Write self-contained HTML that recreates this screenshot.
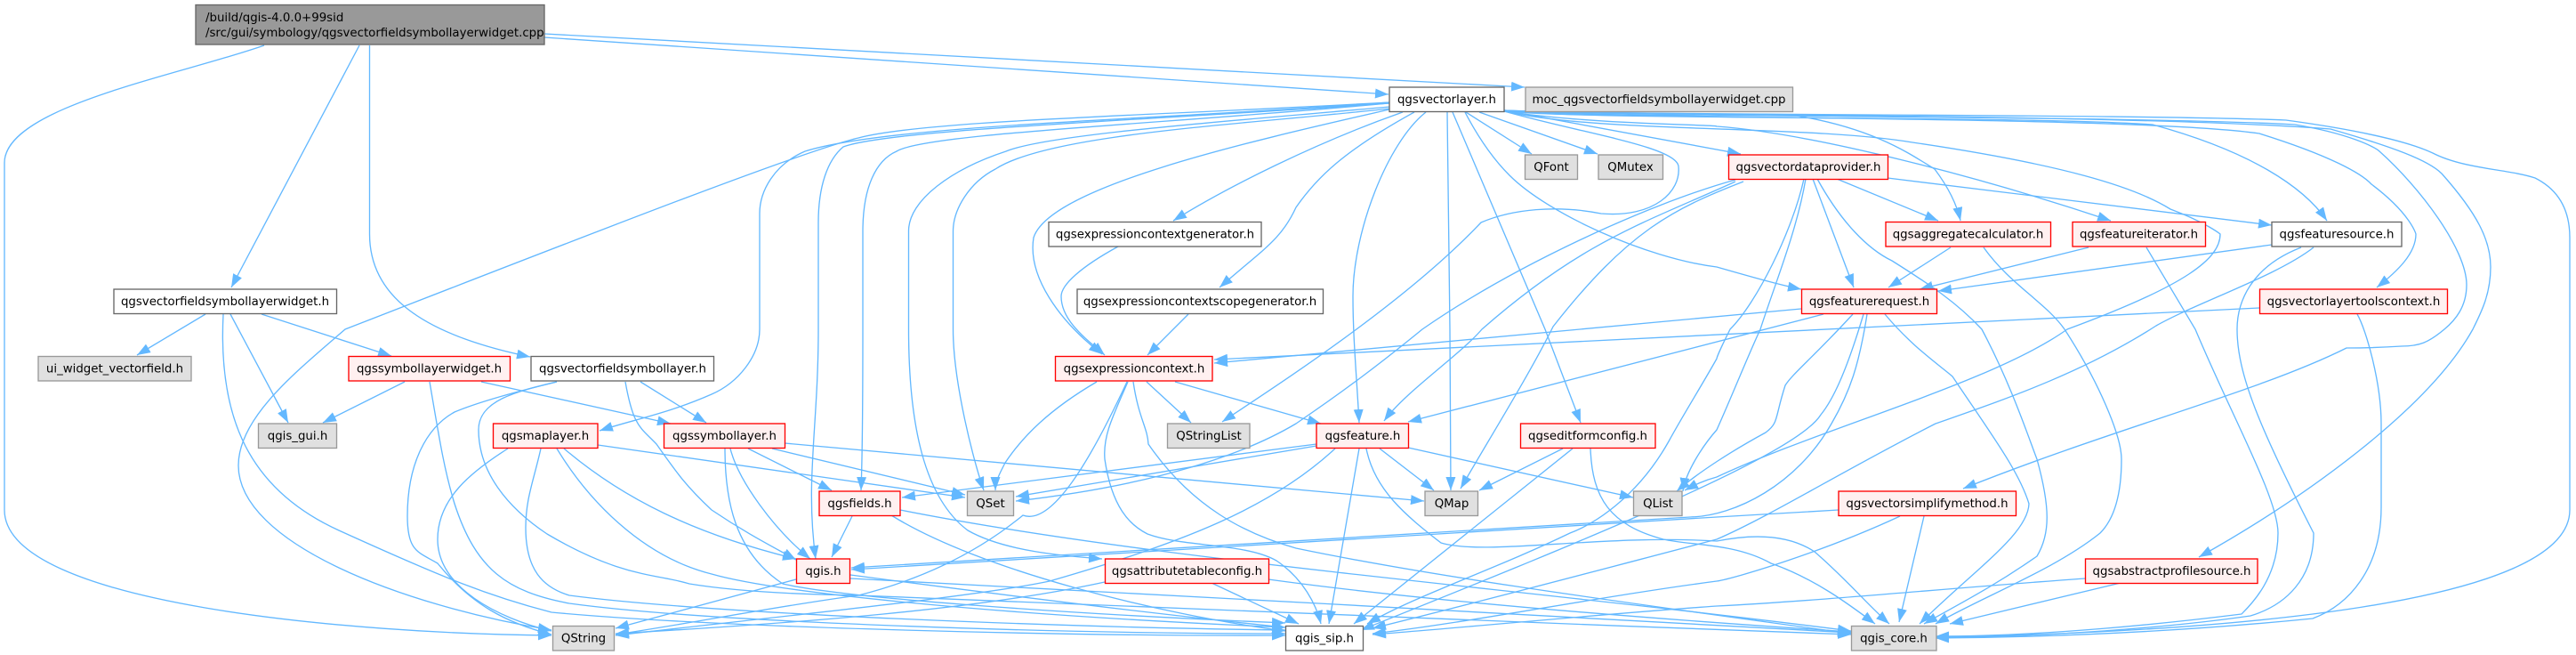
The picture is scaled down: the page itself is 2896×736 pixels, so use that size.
<!DOCTYPE html>
<html><head><meta charset="utf-8"><style>
html,body{margin:0;padding:0;background:#fff;width:2896px;height:736px;overflow:hidden}
svg{display:block}
.e path{fill:none;stroke:#63b8ff;stroke-width:1.33;marker-end:url(#a)}
text{font-family:"DejaVu Sans",sans-serif;font-size:13.33px;fill:#000}
.n text{text-anchor:middle}
.w rect{fill:#fff;stroke:#666;stroke-width:1.33}
.r rect{fill:#fff0f0;stroke:#f00;stroke-width:1.33}
.g rect{fill:#e0e0e0;stroke:#999;stroke-width:1.33}
</style></head><body>
<svg width="2896" height="736" viewBox="0 0 2896 736" xmlns="http://www.w3.org/2000/svg">
<defs><marker id="a" markerUnits="userSpaceOnUse" markerWidth="16" markerHeight="12" refX="15" refY="5.5" orient="auto"><path d="M0,0L15,5.5L0,11z" fill="#63b8ff"/></marker></defs>
<g class="e">
<!-- root -->
<path d="M297,51C200,85 5,120 5,183L5,573C5,680 400,712 620,714"/>
<path d="M404,51L260,323"/>
<path d="M415.500,51L415.500,263C415.500,330 470,375 596,401"/>
<path d="M612,42L1561,106"/>
<path d="M612,38L1714,98"/>
<!-- widget.h -->
<path d="M231,353L154,399"/>
<path d="M251,353C245,470 280,550 381,596C500,650 550,670 620,688C800,705 1200,715 1445,714"/>
<path d="M259,353L324,475"/>
<path d="M294,353L440,400"/>
<!-- symbollayerwidget -->
<path d="M455,429L363,475"/>
<path d="M483,429C495,500 500,530 511,566C535,640 570,665 640,678C800,700 1200,712 1445,712"/>
<path d="M541,429L754,476"/>
<!-- vectorfieldsymbollayer -->
<path d="M626,429C560,445 530,455 511,463C480,480 458,520 458,580C458,620 470,620 492,633C530,680 570,700 620,713"/>
<path d="M626,429C580,440 538,450 538,483C538,530 570,570 615,600C700,650 740,645 775,656C830,665 900,668 965,669C1300,680 1700,700 2081,713"/>
<path d="M703,429C712,480 720,480 738,499C760,530 770,545 800,573C840,600 870,615 895,629"/>
<path d="M720,429L794,475"/>
<!-- maplayer -->
<path d="M571,504C530,530 492,560 492,606C492,660 560,695 620,709"/>
<path d="M608,504C600,540 591,560 591,593C591,640 610,660 640,669C800,690 1200,705 1445,708"/>
<path d="M634,504C700,560 780,600 895,628"/>
<path d="M626,504C660,560 720,625 800,645C870,665 1100,690 1445,705"/>
<path d="M672,500L1085,559"/>
<!-- symbollayer -->
<path d="M821,504C830,540 870,595 911,628"/>
<path d="M815,504C815,560 825,620 880,656C950,672 1200,690 1445,700"/>
<path d="M841,504L935,551"/>
<path d="M868,504L1085,556"/>
<path d="M882,498L1601,563"/>
<!-- qgsfields -->
<path d="M958,580L935,626"/>
<path d="M1002,579C1100,640 1300,690 1445,709"/>
<path d="M1012,573C1300,630 1700,660 2081,709"/>
<!-- qgis.h -->
<path d="M895,651L692,706"/>
<path d="M956,646C1100,665 1300,690 1445,705"/>
<path d="M956,650C1300,670 1750,690 2081,711"/>
<!-- qgsfeaturerequest -->
<path d="M2025,347L1365,408"/>
<path d="M2050,353L1583,474"/>
<path d="M2083,353C2040,400 2015,420 2007,433C1995,470 2000,475 1985,486C1950,505 1910,530 1885,552"/>
<path d="M2095,353C2075,420 2060,450 2047,466C2020,510 1800,600 1530,708"/>
<path d="M2099,353C2090,410 2080,440 2059,476C2020,545 1950,580 1900,581L957,638"/>
<path d="M2119,353C2150,390 2180,410 2195,423C2240,490 2270,530 2281,566C2280,600 2220,640 2158,701"/>
<!-- provider -->
<path d="M1951,202C1850,230 1700,300 1599,370C1550,410 1510,440 1457,476C1400,510 1300,545 1142,563"/>
<path d="M1951,204C1850,250 1780,270 1666,370C1640,400 1580,440 1556,473"/>
<path d="M1960,204C1880,235 1830,260 1746,367C1720,420 1670,500 1642,549"/>
<path d="M2028,201C2015,260 1975,340 1945,370C1930,400 1930,403 1930,403C1915,430 1890,470 1876,496C1840,560 1790,590 1765,599C1680,640 1590,670 1537,701"/>
<path d="M2030,201C2020,260 1995,320 1979,370C1965,400 1945,450 1930,483C1915,500 1895,530 1892,552"/>
<path d="M2038,201L2084,323"/>
<path d="M2043,201C2070,250 2100,280 2127,293C2170,320 2200,340 2228,370C2260,430 2280,490 2290,516C2305,570 2305,600 2290,625C2240,660 2200,680 2163,701"/>
<path d="M2065,201L2179,248"/>
<path d="M2122,200L2554,253"/>
<!-- aggregate -->
<path d="M2193,278L2123,323"/>
<path d="M2230,278C2260,320 2300,340 2321,370C2360,430 2385,490 2385,516C2385,560 2375,585 2361,599C2310,640 2230,670 2176,701"/>
<!-- iterator -->
<path d="M2348,278L2158,325"/>
<path d="M2413,278L2468,370C2510,470 2561,560 2561,599C2561,650 2530,680 2520,690C2440,700 2300,715 2176,715"/>
<!-- source -->
<path d="M2554,275L2179,327"/>
<path d="M2601,278C2560,310 2470,340 2424,366C2340,420 2250,450 2176,476C2070,530 1990,580 1930,606C1800,640 1650,680 1543,706"/>
<path d="M2587,278C2530,300 2515,340 2515,370C2515,420 2540,480 2601,599C2601,650 2570,680 2530,692C2440,705 2300,716 2176,716"/>
<!-- toolscontext -->
<path d="M2540,346L1365,404"/>
<path d="M2650,353C2660,370 2677,430 2677,476L2677,570C2677,640 2640,680 2600,695C2450,710 2300,716 2176,717"/>
<!-- simplify -->
<path d="M2067,573L1930,581L957,640"/>
<path d="M2136,580C2050,620 1950,650 1930,653C1800,670 1650,700 1543,712"/>
<path d="M2163,580L2135,699"/>
<!-- profile -->
<path d="M2345,650C2200,660 2050,675 1930,681C1800,690 1650,705 1543,713"/>
<path d="M2384,655L2192,701"/>
<!-- editform -->
<path d="M1757,504L1663,551"/>
<path d="M1768,504L1522,701"/>
<path d="M1788,504C1790,560 1810,590 1870,606C1900,613 1950,610 1991,633C2040,650 2080,680 2108,701"/>
<!-- feature -->
<path d="M1480,499L1014,559"/>
<path d="M1480,501L1142,558"/>
<path d="M1501,504C1430,570 1330,610 1180,653C1100,670 900,690 692,714"/>
<path d="M1528,504L1494,701"/>
<path d="M1536,504C1545,550 1580,579 1620,610C1670,625 1800,600 1930,608C1970,600 2010,600 2040,620C2075,650 2100,680 2124,701"/>
<path d="M1551,504L1612,551"/>
<path d="M1583,503L1836,559"/>
<!-- expression context -->
<path d="M1233,429C1180,460 1150,490 1130,520C1125,530 1119,540 1119,551"/>
<path d="M1267,429C1220,530 1180,590 1150,579C1100,620 1040,650 965,669C880,680 780,700 692,713"/>
<path d="M1268,429C1250,470 1240,490 1242,516C1250,570 1270,590 1290,600C1330,615 1400,610 1435,630C1465,650 1480,680 1485,701"/>
<path d="M1274,429C1280,470 1290,480 1291,499C1340,570 1400,600 1457,616C1620,650 1850,680 2081,712"/>
<path d="M1289,429L1339,475"/>
<path d="M1321,429L1485,476"/>
<!-- generators -->
<path d="M1257,277C1215,300 1193,320 1193,333C1193,360 1220,380 1242,399"/>
<path d="M1336,353L1290,399"/>
<!-- attribute table -->
<path d="M1242,654C1100,685 900,700 692,712"/>
<path d="M1362,655L1460,701"/>
<path d="M1426,651C1600,675 1850,695 2081,710"/>
<!-- vectorlayer -->
<path d="M1562,115C1300,130 1040,135 965,155C900,170 620,280 388,370C330,420 268,470 268,523C268,610 450,680 620,708"/>
<path d="M1562,115C1300,135 1000,140 905,170C870,185 854,215 854,240L854,370C854,400 830,430 800,443C750,465 710,472 674,484"/>
<path d="M1562,116C1300,135 1000,145 948,165C930,180 920,210 920,250L920,370C920,480 905,540 917,628"/>
<path d="M1562,116C1300,140 1040,150 1008,170C985,180 970,210 970,260L970,370C970,420 970,500 968,551"/>
<path d="M1562,120C1400,135 1180,150 1131,170C1070,190 1021,225 1021.500,260L1021.500,370C1021.500,480 1040,560 1088,596C1130,620 1200,625 1239,628"/>
<path d="M1562,122C1400,140 1180,150 1119,190C1090,205 1071.500,235 1071.500,260L1071.500,370C1071.500,430 1095,520 1106,551"/>
<path d="M1562,123C1400,160 1180,210 1162,267C1155,310 1190,360 1239,398"/>
<path d="M1577,126C1480,160 1380,210 1319,248"/>
<path d="M1590,126C1510,170 1480,200 1457,233C1440,270 1420,280 1371,323"/>
<path d="M1603,126C1560,160 1521,260 1521,333C1521,380 1525,420 1528,475"/>
<path d="M1627,126L1630,370L1631,551"/>
<path d="M1633,126L1737,370L1777,475"/>
<path d="M1691,124L1957,173"/>
<path d="M1648,126L1722,173"/>
<path d="M1663,126L1796,173"/>
<path d="M1691,125C1780,150 1885,165 1887,187C1890,215 1860,245 1800,240C1750,230 1700,235 1665,250C1580,340 1440,430 1374,474"/>
<path d="M1647,126C1670,170 1690,190 1697,197C1740,240 1850,290 1930,300C1965,310 2000,320 2025,325"/>
<path d="M1691,124C1790,135 1990,125 2020,130C2110,145 2150,175 2175,190C2190,210 2200,230 2204,248"/>
<path d="M1691,125C1790,140 1930,140 1930,142C2040,150 2230,200 2373,248"/>
<path d="M1691,125C1790,135 2280,130 2420,140C2530,170 2590,210 2616,248"/>
<path d="M1691,124C1850,135 2400,130 2540,150C2620,175 2655,195 2666,207C2710,240 2716,263 2716,263C2716,285 2695,305 2672,323"/>
<path d="M1691,124C1850,132 2400,130 2580,140C2640,150 2670,165 2675,170C2720,210 2773,280 2773,320C2773,345 2760,360 2748,370C2730,385 2720,389 2700,389C2670,391 2650,391 2638,391C2540,440 2380,480 2207,549"/>
<path d="M1691,124C1850,130 2400,128 2620,145C2690,165 2730,180 2745,195C2785,240 2800,270 2800,300C2800,330 2790,350 2780,370C2730,460 2590,560 2472,626"/>
<path d="M1691,125C1800,150 2030,140 2150,160C2320,185 2400,210 2440,235C2480,250 2496,263 2496,263C2496,290 2460,320 2324,370C2240,430 2050,480 1930,536C1915,540 1905,545 1894,551"/>
<path d="M1691,124C1850,130 2400,128 2570,135C2680,150 2720,165 2735,172C2770,190 2820,190 2850,200C2880,215 2889,240 2889,267L2889,573C2889,680 2500,710 2176,716"/>
</g>
<g class="n">
<g class="g"><rect x="220" y="5.500" width="392" height="44.500" style="fill:#999;stroke:#666"/></g>
<text x="231" y="24" style="text-anchor:start">/build/qgis-4.0.0+99sid</text>
<text x="231" y="41" style="text-anchor:start">/src/gui/symbology/qgsvectorfieldsymbollayerwidget.cpp</text>
<g class="w"><rect x="128" y="325" width="250.500" height="27.500"/><text x="253" y="343">qgsvectorfieldsymbollayerwidget.h</text></g>
<g class="w"><rect x="1562" y="98" width="129" height="27.500"/><text x="1626.500" y="116">qgsvectorlayer.h</text></g>
<g class="g"><rect x="1715" y="98" width="300.500" height="27.500"/><text x="1865" y="116">moc_qgsvectorfieldsymbollayerwidget.cpp</text></g>
<g class="g"><rect x="43" y="400.500" width="172" height="27.500"/><text x="129" y="418.500">ui_widget_vectorfield.h</text></g>
<g class="r"><rect x="392" y="400.500" width="181.500" height="27.500"/><text x="482.500" y="418.500">qgssymbollayerwidget.h</text></g>
<g class="w"><rect x="597" y="400.500" width="205.500" height="27.500"/><text x="700" y="418.500">qgsvectorfieldsymbollayer.h</text></g>
<g class="g"><rect x="290.500" y="476" width="88" height="27.500"/><text x="334.500" y="494">qgis_gui.h</text></g>
<g class="r"><rect x="554.500" y="476" width="117.500" height="27.500"/><text x="613" y="494">qgsmaplayer.h</text></g>
<g class="r"><rect x="746.500" y="476" width="136" height="27.500"/><text x="814.500" y="494">qgssymbollayer.h</text></g>
<g class="r"><rect x="921" y="552" width="91" height="27.500"/><text x="966.500" y="570">qgsfields.h</text></g>
<g class="r"><rect x="895.500" y="628" width="60" height="27.500"/><text x="925.500" y="646">qgis.h</text></g>
<g class="g"><rect x="621.500" y="703.500" width="69" height="27.500"/><text x="656" y="721.500">QString</text></g>
<g class="g"><rect x="1714.500" y="174" width="59" height="27.500"/><text x="1744" y="192">QFont</text></g>
<g class="g"><rect x="1797" y="174" width="72.500" height="27.500"/><text x="1833" y="192">QMutex</text></g>
<g class="w"><rect x="1179" y="249.500" width="239" height="27.500"/><text x="1298.500" y="267.500">qgsexpressioncontextgenerator.h</text></g>
<g class="w"><rect x="1211" y="325" width="276.500" height="27.500"/><text x="1349" y="343">qgsexpressioncontextscopegenerator.h</text></g>
<g class="r"><rect x="1186.500" y="400.500" width="176.500" height="27.500"/><text x="1275" y="418.500">qgsexpressioncontext.h</text></g>
<g class="g"><rect x="1312.500" y="476" width="92.500" height="27.500"/><text x="1359" y="494">QStringList</text></g>
<g class="r"><rect x="1480" y="476" width="103.500" height="27.500"/><text x="1532" y="494">qgsfeature.h</text></g>
<g class="r"><rect x="1709.500" y="476" width="151.500" height="27.500"/><text x="1785" y="494">qgseditformconfig.h</text></g>
<g class="g"><rect x="1087.500" y="552" width="52" height="27.500"/><text x="1113.500" y="570">QSet</text></g>
<g class="g"><rect x="1602" y="552" width="59.500" height="27.500"/><text x="1632" y="570">QMap</text></g>
<g class="g"><rect x="1836.500" y="552" width="54.500" height="27.500"/><text x="1864" y="570">QList</text></g>
<g class="r"><rect x="1242.500" y="628" width="184" height="27.500"/><text x="1334.500" y="646">qgsattributetableconfig.h</text></g>
<g class="w"><rect x="1445.500" y="703.500" width="87" height="27.500"/><text x="1489" y="721.500">qgis_sip.h</text></g>
<g class="r"><rect x="1943.500" y="174" width="179" height="27.500"/><text x="2033" y="192">qgsvectordataprovider.h</text></g>
<g class="r"><rect x="2120" y="249.500" width="185.500" height="27.500"/><text x="2212.500" y="267.500">qgsaggregatecalculator.h</text></g>
<g class="r"><rect x="2330" y="249.500" width="149.500" height="27.500"/><text x="2404.500" y="267.500">qgsfeatureiterator.h</text></g>
<g class="w"><rect x="2554" y="249.500" width="146" height="27.500"/><text x="2627" y="267.500">qgsfeaturesource.h</text></g>
<g class="r"><rect x="2025.500" y="325" width="152" height="27.500"/><text x="2101.500" y="343">qgsfeaturerequest.h</text></g>
<g class="r"><rect x="2540.500" y="325" width="211" height="27.500"/><text x="2646" y="343">qgsvectorlayertoolscontext.h</text></g>
<g class="r"><rect x="2067" y="552" width="199.500" height="27.500"/><text x="2166.500" y="570">qgsvectorsimplifymethod.h</text></g>
<g class="r"><rect x="2344.500" y="628" width="193.500" height="27.500"/><text x="2441.500" y="646">qgsabstractprofilesource.h</text></g>
<g class="g"><rect x="2081.500" y="703.500" width="95.500" height="27.500"/><text x="2129" y="721.500">qgis_core.h</text></g>
</g>
</svg>
</body></html>
